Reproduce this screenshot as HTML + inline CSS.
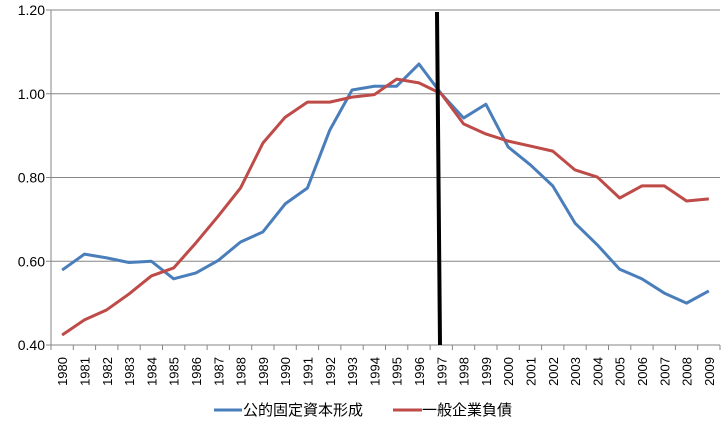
<!DOCTYPE html>
<html><head><meta charset="utf-8"><style>
body{margin:0;background:#fff;}
svg text{font-family:"Liberation Sans","Noto Sans CJK JP",sans-serif;fill:#000;}
</style></head><body>
<svg id="chart" width="726" height="421" xmlns="http://www.w3.org/2000/svg">
<g id="grid"></g><g id="axes"></g><g id="series"></g>
<line x1="437" y1="12" x2="440" y2="345" stroke="#000" stroke-width="4"/>
<g>
<line x1="214" y1="410" x2="242" y2="410" stroke="#4a7ebb" stroke-width="3"/>
<text x="243" y="415" font-size="15">公的固定資本形成</text>
<line x1="393" y1="410" x2="422" y2="410" stroke="#be4b48" stroke-width="3"/>
<text x="422" y="415" font-size="15">一般企業負債</text>
</g>
</svg>
<script>
const categories=[1980,1981,1982,1983,1984,1985,1986,1987,1988,1989,1990,1991,1992,1993,1994,1995,1996,1997,1998,1999,2000,2001,2002,2003,2004,2005,2006,2007,2008,2009];
const publicCapital=[0.579,0.617,0.608,0.597,0.600,0.558,0.572,0.602,0.646,0.670,0.737,0.775,0.913,1.009,1.018,1.018,1.071,1.000,0.942,0.975,0.873,0.830,0.780,0.691,0.639,0.581,0.558,0.524,0.500,0.529];
const corporateDebt=[0.424,0.460,0.484,0.522,0.565,0.584,0.644,0.708,0.775,0.882,0.944,0.980,0.980,0.992,0.998,1.035,1.026,1.000,0.928,0.904,0.887,0.875,0.863,0.818,0.801,0.751,0.780,0.780,0.744,0.749];
const yTicks=[0.40,0.60,0.80,1.00,1.20];
const NS='http://www.w3.org/2000/svg';
const L=51,R=720,T=10,B=345,yMin=0.4,yMax=1.2;
const step=(R-L)/categories.length;
function xs(i){return L+step*(i+0.5);}
function ys(v){return B-(v-yMin)/(yMax-yMin)*(B-T);}
function mk(tag,attrs,parent){const e=document.createElementNS(NS,tag);for(const k in attrs)e.setAttribute(k,attrs[k]);parent.appendChild(e);return e;}
const grid=document.getElementById('grid'),axes=document.getElementById('axes'),series=document.getElementById('series');
yTicks.forEach(v=>{
  const g=mk('line',{x1:L-5,x2:R,y1:ys(v),y2:ys(v),stroke:'#868686','stroke-width':1},grid);
  
  
  const t=mk('text',{x:45,y:ys(v)+5,'text-anchor':'end','font-size':14},axes);
  
  
  t.textContent=v.toFixed(2);
});
const ya=mk('line',{x1:L,x2:L,y1:T,y2:B,stroke:'#868686'},axes);


for(let i=0;i<=categories.length;i++){
  const tk=mk('line',{x1:L+step*i,x2:L+step*i,y1:B,y2:B+5,stroke:'#868686'},axes);
  
  
}
categories.forEach((c,i)=>{
  const x=xs(i)+5,y=B+12;
  const t=mk('text',{x:x,y:y,'text-anchor':'end','font-size':13,transform:`rotate(-90 ${x} ${y})`},axes);
  
  
  t.textContent=c;
});
function drawLine(vals,color,name){
  const p=mk('polyline',{points:vals.map((v,i)=>xs(i)+','+ys(v)).join(' '),fill:'none',stroke:color,'stroke-width':3,'stroke-linejoin':'round'},series);
  
  
}
drawLine(publicCapital,'#4a7ebb','series-public-capital');
drawLine(corporateDebt,'#be4b48','series-corporate-debt');
</script>
</body></html>
